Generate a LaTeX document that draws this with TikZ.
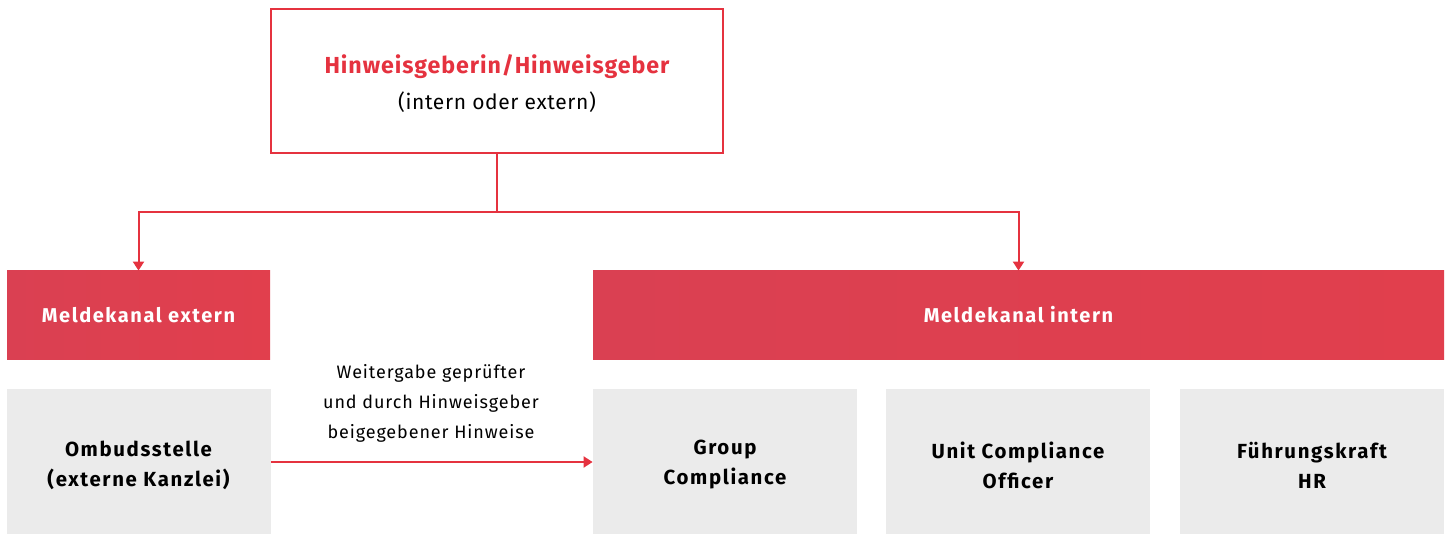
\documentclass[tikz,border=0pt]{standalone}
\usepackage{fontspec}
\setmainfont{Fira Sans}
\usepackage{xcolor}
\usepackage{tikz}
\usetikzlibrary{arrows.meta}

\definecolor{hred}{HTML}{E5323F}
\definecolor{bandl}{HTML}{DA4052}
\definecolor{bandm}{HTML}{EB606C}
\definecolor{bandr}{HTML}{E13F4D}
\definecolor{pale}{HTML}{EBEBEB}

\tikzset{
    pfeil/.style={draw=hred,line width=1pt,-{Triangle[length=4.5pt,width=5.5pt]}},
    band/.style={rectangle,left color=bandl,middle color=bandm,right color=bandr,
        minimum height=44pt,text=white,
        font=\bfseries\fontsize{10}{12}\selectfont\addfontfeatures{LetterSpace=8}},
    stelle/.style={rectangle,fill=pale,minimum width=132pt,minimum height=76pt,
        align=center,
        font=\bfseries\fontsize{10.2}{15}\selectfont\addfontfeatures{LetterSpace=8}}
}

\begin{document}
\begin{tikzpicture}[x=0.5pt,y=-0.5pt]
        \useasboundingbox (0,0) rectangle (1451,534);

        \node[draw=hred,line width=1pt,minimum width=226pt,minimum height=72pt,align=center] (top) at (497,81.5)
            {\rule{0pt}{12pt}{\color{hred}\bfseries\fontsize{11.6}{19}\selectfont\addfontfeatures{LetterSpace=4}Hinweisgeberin/Hinweisgeber}\\[6pt]
             {\fontsize{10.5}{12}\selectfont\addfontfeatures{LetterSpace=3}(intern oder extern)}};

        \node[band,minimum width=131.5pt] (ext) at (138.5,315) {Meldekanal extern};
        \node[band,minimum width=425.5pt] (int) at (1018.5,315) {Meldekanal intern};

        % boxes run past the lower page edge
        \node[stelle] (ombud) at (138.5,465) {Ombudsstelle\\(externe Kanzlei)};
        \node[stelle] (group) at (725,465) {Group\\Compliance};
        \node[stelle] (unit) at (1018,465) {Unit Compliance\\Officer};
        \node[stelle] (fuehr) at (1312,465) {Führungskraft\\HR};

        \coordinate (split) at (497,212);
        \draw[pfeil] (top.south) -- (split) -| (ext.north);
        \draw[pfeil] (split) -| (int.north);

        \draw[pfeil] (ombud.east |- 0,462) -- (group.west |- 0,462);
        \node[align=center,font=\fontsize{9}{15}\selectfont\addfontfeatures{LetterSpace=5}] (weiter) at (431,403)
            {Weitergabe geprüfter\\und durch Hinweisgeber\\beigegebener Hinweise};

    \end{tikzpicture}
\end{document}
